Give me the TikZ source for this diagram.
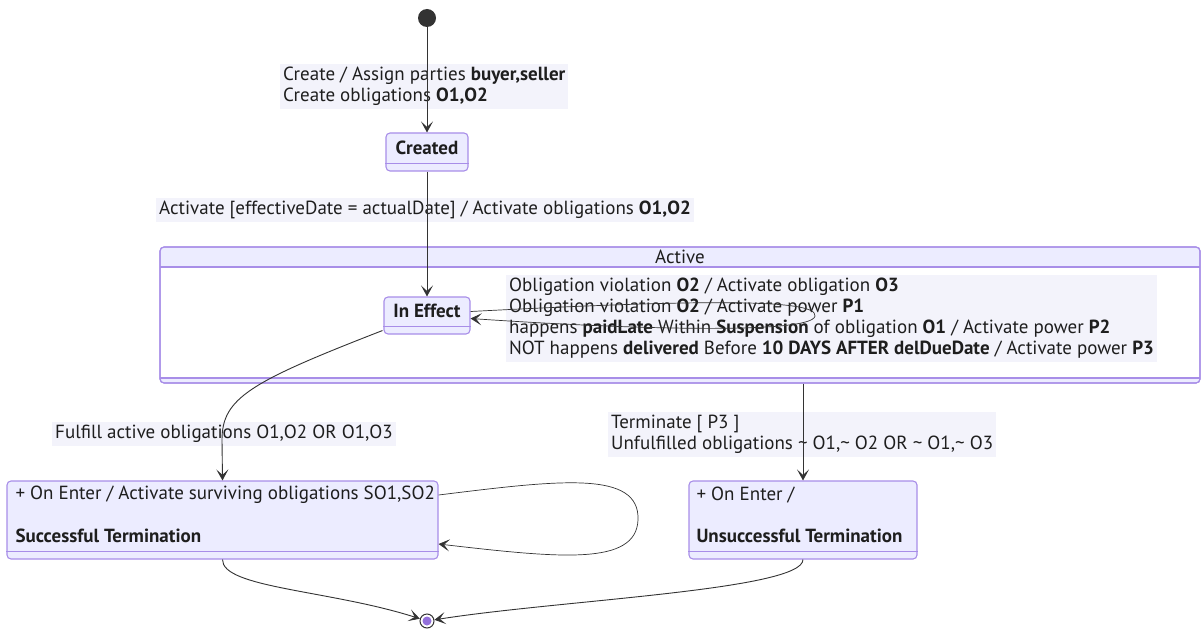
\documentclass[tikz,border=0pt]{standalone}
\usepackage{fontspec}
\setmainfont{PT Sans}
\usetikzlibrary{arrows.meta}
\definecolor{stfill}{HTML}{ECECFF}
\definecolor{stline}{HTML}{A88EE8}
\definecolor{edgeline}{HTML}{333333}
\definecolor{lblfill}{HTML}{F3F3FB}
\definecolor{txt}{HTML}{1E1E1E}
\definecolor{endfill}{HTML}{9370DB}

\begin{document}
\begin{tikzpicture}[x=1pt,y=-1pt,
  every node/.style={text=txt,font=\fontsize{19}{21}\selectfont},
  state/.style={draw=stline,fill=stfill,line width=1.1pt,rounded corners=4pt,inner sep=0pt},
  lbl/.style={fill=lblfill,align=left,inner sep=3pt},
  edge/.style={edgeline,line width=0.9pt,-{Stealth[length=11pt,width=12pt,inset=5.5pt]}},
  loop/.style={edgeline,line width=0.7pt,-{Stealth[length=11pt,width=12pt,inset=5.5pt]}}]

  \useasboundingbox (0,0) rectangle (1201,631);

  % Active composite state
  \node[state,minimum width=1040pt,minimum height=136pt] (active) at (680,315) {};
  \fill[white] (161,267.6) rectangle (1199,377.4);
  \draw[stline,line width=1.1pt] (160,267) -- (1200,267);
  \draw[stline,line width=1.1pt] (160,378) -- (1200,378);
  \node[state,fill=none,minimum width=1040pt,minimum height=136pt] at (680,315) {};
  \node (activeT) at (680,257) {Active};

  % transition labels (drawn under the arrows)
  \node[lbl,anchor=north west] (lcreate) at (280,64)
    {Create / Assign parties \textbf{buyer,seller}\\Create obligations \textbf{O1,O2}};
  \node[lbl,anchor=west] (lactivate) at (156,210)
    {Activate [effectiveDate = actualDate] / Activate obligations \textbf{O1,O2}};
  \node[lbl,anchor=north west] (lviolate) at (506,275)
    {Obligation violation \textbf{O2} / Activate obligation \textbf{O3}\\
     Obligation violation \textbf{O2} / Activate power \textbf{P1}\\
     happens \textbf{paidLate} Within \textbf{Suspension} of obligation \textbf{O1} / Activate power \textbf{P2}\\
     NOT happens \textbf{delivered} Before \textbf{10 DAYS AFTER delDueDate} / Activate power \textbf{P3}};
  \node[lbl,anchor=west] (lfulfill) at (52,434)
    {Fulfill active obligations O1,O2 OR O1,O3};
  \node[lbl,anchor=north west] (lterm) at (608,412)
    {Terminate [ P3 ]\\Unfulfilled obligations \textasciitilde{} O1,\textasciitilde{} O2 OR \textasciitilde{} O1,\textasciitilde{} O3};

  % start and end
  \node[circle,fill=edgeline,inner sep=0pt,minimum size=18pt] (start) at (427,18) {};
  \node[circle,draw=edgeline,fill=white,line width=1pt,inner sep=0pt,minimum size=14pt] (final) at (427,621) {};
  \fill[endfill] (final) circle (4.5pt);

  % simple states
  \node[state,minimum width=82pt,minimum height=38pt] (created) at (427,152) {};
  \draw[stline,line width=1.1pt] ([yshift=8pt]created.south west) -- ([yshift=8pt]created.south east);
  \node[font=\fontsize{19}{21}\selectfont\bfseries] (createdT) at (427,148) {Created};

  \node[state,minimum width=86pt,minimum height=37pt] (ineffect) at (427,315.5) {};
  \draw[stline,line width=1.1pt] ([yshift=8pt]ineffect.south west) -- ([yshift=8pt]ineffect.south east);
  \node[font=\fontsize{19}{21}\selectfont\bfseries] (ineffectT) at (427,311) {In Effect};

  \node[state,minimum width=431pt,minimum height=78pt] (success) at (222.5,520) {};
  \draw[stline,line width=1.1pt] ([yshift=8pt]success.south west) -- ([yshift=8pt]success.south east);
  \node[anchor=west] (successA) at (12,495) {+ On Enter / Activate surviving obligations SO1,SO2};
  \node[anchor=west,font=\fontsize{19}{21}\selectfont\bfseries] (successT) at (12,536) {Successful Termination};

  \node[state,minimum width=228pt,minimum height=78pt] (fail) at (803,520) {};
  \draw[stline,line width=1.1pt] ([yshift=8pt]fail.south west) -- ([yshift=8pt]fail.south east);
  \node[anchor=west] (failA) at (693,495) {+ On Enter /};
  \node[anchor=west,font=\fontsize{19}{21}\selectfont\bfseries] (failT) at (693,536) {Unsuccessful Termination};

  % transitions
  \draw[edge] (start) -- (created);
  \draw[edge] (created) -- (ineffect);
  \draw[loop] ([yshift=4pt]ineffect.east) .. controls (690,300) and (818,298) .. (815,316)
    .. controls (812,334) and (640,330) .. ([yshift=-3pt]ineffect.east);
  \draw[edge] ([shift={(-1pt,4pt)}]ineffect.south west) .. controls (250,382) and (222,398) .. (222,440) -- (success.north);
  \draw[edge] (active.south -| fail.north) -- (fail.north);
  \draw[loop] ([yshift=25pt]success.east) .. controls (560,480) and (640,470) .. (638,520)
    .. controls (636,566) and (560,558) .. ([yshift=-24pt]success.east);
  \draw[edge] (success.south) .. controls (222,588) and (330,590) .. (final);
  \draw[edge] (fail.south) .. controls (803,590) and (560,600) .. (final);

\end{tikzpicture}
\end{document}
